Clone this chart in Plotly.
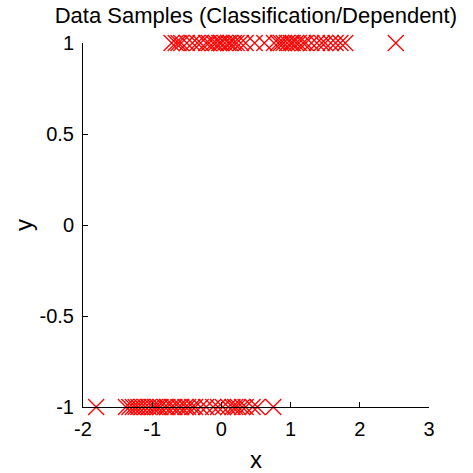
import plotly.graph_objects as go

x_pos = [-0.72, -0.66, -0.62, -0.58, -0.5, -0.42, -0.35, -0.3, -0.22, -0.18, -0.12, -0.08,
         -0.03, 0.0, 0.05, 0.1, 0.13, 0.18, 0.22, 0.28, 0.35, 0.48, 0.62, 0.76, 0.82, 0.86,
         0.9, 0.95, 1.0, 1.03, 1.08, 1.12, 1.18, 1.22, 1.3, 1.38, 1.45, 1.5, 1.58, 1.65,
         1.72, 1.79, 2.52]
x_neg = [-1.81, -1.38, -1.33, -1.28, -1.24, -1.2, -1.15, -1.1, -1.05, -1.0, -0.96, -0.92,
         -0.88, -0.82, -0.78, -0.72, -0.68, -0.62, -0.58, -0.52, -0.48, -0.42, -0.38, -0.3,
         -0.22, -0.12, -0.05, 0.02, 0.1, 0.16, 0.2, 0.24, 0.3, 0.35, 0.45, 0.52, 0.75]
xs = x_pos + x_neg
ys = [1] * len(x_pos) + [-1] * len(x_neg)

x_ticks = [-2, -1, 0, 1, 2, 3]
y_ticks = [-1, -0.5, 0, 0.5, 1]
y_tick_text = ["-1", "-0.5", "0", "0.5", "1"]
x_tick_text = ["-2", "-1", "0", "1", "2", "3"]

fig = go.Figure(go.Scatter(
    x=xs, y=ys, mode="markers", cliponaxis=False,
    marker=dict(symbol="x-thin", size=16, color="red", line=dict(color="red", width=1.3)),
))

font = dict(family="Liberation Sans, Arial, sans-serif", size=20, color="black")
fig.update_layout(
    width=473, height=473,
    margin=dict(l=83, r=44, t=43, b=66, autoexpand=False),
    paper_bgcolor="white", plot_bgcolor="white",
    font=font, showlegend=False,
    title=dict(text="Data Samples (Classification/Dependent)", x=0.541, xanchor="center",
               y=0.968, yanchor="middle", font=dict(size=22)),
)
fig.update_xaxes(range=[-2, 3], tickvals=x_ticks, ticktext=x_tick_text, ticks="inside",
                 ticklen=5, tickcolor="black", showline=True, linecolor="black", linewidth=1,
                 showgrid=False, zeroline=False, automargin=False, ticklabelstandoff=4,
                 title=dict(text="x", standoff=14))
fig.update_yaxes(range=[-1, 1], tickvals=y_ticks, ticktext=y_tick_text, ticks="inside",
                 ticklen=5, tickcolor="black", showline=True, linecolor="black", linewidth=1,
                 showgrid=False, zeroline=False, automargin=False, ticklabelstandoff=4,
                 title=dict(text="y", standoff=0))

fig.write_html("out.html", config={"displayModeBar": False},
               post_script="document.body.style.margin='0';")
